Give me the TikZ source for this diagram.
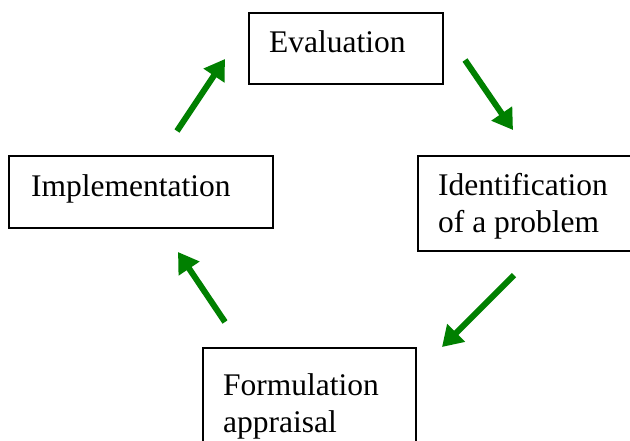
\documentclass[tikz,border=0pt]{standalone}
\usepackage{fontspec}
\setmainfont{Liberation Serif}
\usetikzlibrary{arrows.meta}
\definecolor{arrowgreen}{RGB}{0,128,0}
\begin{document}
\begin{tikzpicture}[x=1pt,y=-1pt,
  boxstyle/.style={draw=black,line width=1.6pt,inner sep=0pt},
  txt/.style={inner sep=0pt,anchor=base west,font=\fontsize{31.5}{37}\selectfont,align=left},
  flow/.style={draw=arrowgreen,line width=6pt,-{Triangle[length=20pt,width=24pt]}}]
\useasboundingbox (0,0) rectangle (630,440);
\fill[white] (0,0) rectangle (630,440);
% boxes
\node[boxstyle,minimum width=194pt,minimum height=71pt,anchor=north west] (evalbox) at (248,12) {};
\node[boxstyle,minimum width=230pt,minimum height=95pt,anchor=north west] (identbox) at (417,155) {};
\node[boxstyle,minimum width=213pt,minimum height=110pt,anchor=north west] (formbox) at (202,347) {};
\node[boxstyle,minimum width=264pt,minimum height=72pt,anchor=north west] (implbox) at (8,155) {};
% texts
\node[txt] (evaltxt) at (269,52) {Evaluation};
\node[txt] (identtxt) at (438,195) {Identification};
\node[txt] (identtxt2) at (438,232) {of a problem};
\node[txt] (formtxt) at (223,395) {Formulation};
\node[txt] (formtxt2) at (223,432) {appraisal};
\node[txt] (impltxt) at (31,196) {Implementation};
% arrow end points
\coordinate (a1s) at (465,60);  \coordinate (a1e) at (513,130);
\coordinate (a2s) at (514,275); \coordinate (a2e) at (442,347);
\coordinate (a3s) at (225,322); \coordinate (a3e) at (178,252);
\coordinate (a4s) at (177,131); \coordinate (a4e) at (225,59);
\draw[flow] (a1s) -- (a1e);
\draw[flow] (a2s) -- (a2e);
\draw[flow] (a3s) -- (a3e);
\draw[flow] (a4s) -- (a4e);
\end{tikzpicture}
\end{document}
